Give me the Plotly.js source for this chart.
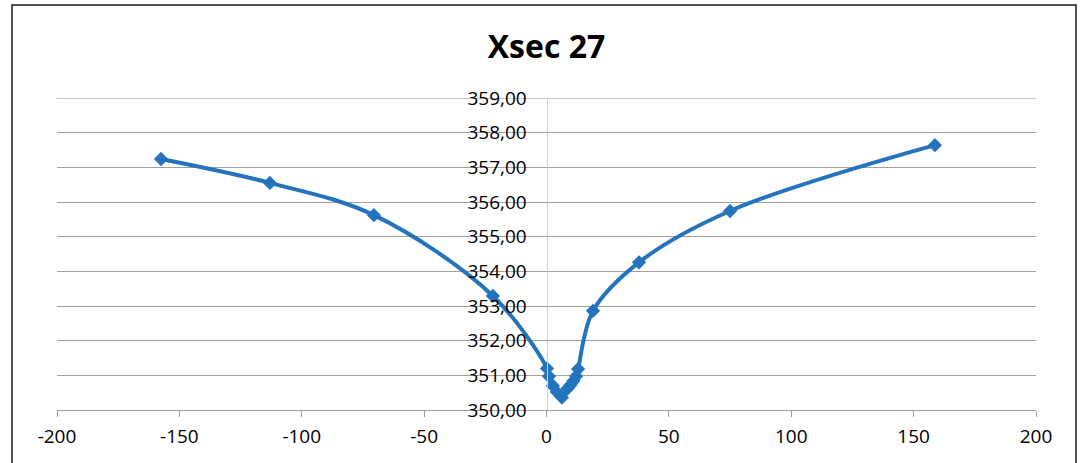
<!DOCTYPE html>
<html>
<head>
<meta charset="utf-8">
<script src="https://cdn.plot.ly/plotly-3.0.1.min.js"></script>
<style>
html,body{margin:0;padding:0;background:#fff;}
#chart{width:1080px;height:463px;}
</style>
</head>
<body>
<div id="chart"></div>
<script>
var stations = [-157.5, -113, -70.5, -21.9, 0.2, 1.0, 2.6, 4.2, 6.3, 8.6, 9.8, 11.0, 12.1, 12.9, 19.0, 37.8, 75.0, 158.7];
var elevations = [357.24, 356.55, 355.62, 353.29, 351.20, 350.97, 350.70, 350.52, 350.36, 350.62, 350.72, 350.84, 350.97, 351.18, 352.86, 354.26, 355.74, 357.64];
var xTicks = [-200, -150, -100, -50, 0, 50, 100, 150, 200];
var yTicks = [350, 351, 352, 353, 354, 355, 356, 357, 358, 359];

var trace = {
  x: stations,
  y: elevations,
  type: 'scatter',
  mode: 'lines+markers',
  line: {color: '#2473BD', width: 4, shape: 'spline', smoothing: 1},
  marker: {symbol: 'diamond', size: 11, color: '#2473BD'},
  hoverinfo: 'x+y'
};

var layout = {
  width: 1080,
  height: 463,
  margin: {l: 57, r: 44, t: 98, b: 53},
  paper_bgcolor: '#ffffff',
  plot_bgcolor: '#ffffff',
  separators: ', ',
  showlegend: false,
  title: {
    text: '<b>Xsec 27</b>',
    font: {family: 'Open Sans, sans-serif', size: 32, color: '#000000'},
    x: 0.5, xanchor: 'center', xref: 'paper',
    y: 0.9, yanchor: 'middle', yref: 'container'
  },
  xaxis: {
    range: [-200, 200],
    tickvals: xTicks,
    ticktext: xTicks.map(String),
    showgrid: false,
    zeroline: false,
    showline: true,
    linecolor: '#9e9e9e',
    linewidth: 1,
    ticks: 'outside',
    ticklen: 6,
    tickcolor: '#9e9e9e',
    ticklabelstandoff: 3,
    tickfont: {family: 'Open Sans, sans-serif', size: 19, color: '#000000'},
    fixedrange: true
  },
  yaxis: {
    range: [350, 359],
    tickvals: yTicks,
    tickformat: '.2f',
    showgrid: true,
    gridcolor: '#a0a0a0',
    gridwidth: 1,
    zeroline: false,
    showline: true,
    linecolor: '#cfcfcf',
    linewidth: 1,
    anchor: 'free',
    position: 0.5,
    ticks: '',
    ticklabelstandoff: 16,
    tickfont: {family: 'Open Sans, sans-serif', size: 19, color: '#000000'},
    fixedrange: true
  },
  shapes: [{
    type: 'rect', xref: 'paper', yref: 'paper',
    x0: -45/979, x1: 1019/979, y0: -70/312, y1: 405/312,
    line: {color: '#1a1a1a', width: 1.5},
    fillcolor: 'rgba(0,0,0,0)',
    layer: 'below'
  }, {
    type: 'line', xref: 'paper', yref: 'y',
    x0: 0, x1: 1, y0: 359, y1: 359,
    line: {color: '#909090', width: 1},
    layer: 'below'
  }]
};

Plotly.newPlot('chart', [trace], layout, {displayModeBar: false, staticPlot: true});
</script>
</body>
</html>
